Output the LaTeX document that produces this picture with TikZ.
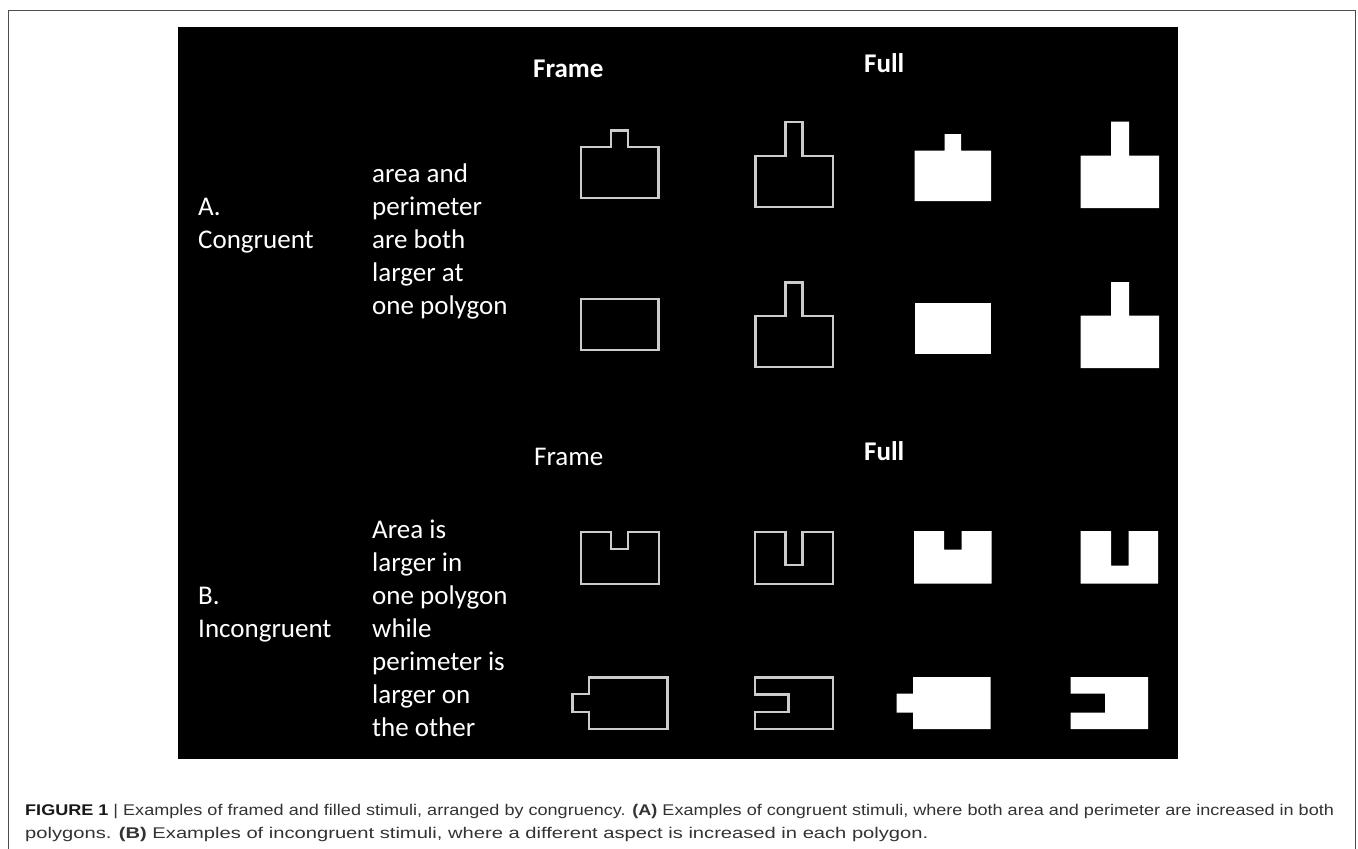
\documentclass[tikz,border=0pt]{standalone}
\usepackage{fontspec}
\setmainfont{Carlito}
\newfontfamily\capfont{Liberation Sans}
\begin{document}
\begin{tikzpicture}[x=1pt,y=-1pt,
  lbl/.style={text=white,font=\fontsize{27}{33}\selectfont,anchor=base west,inner sep=0pt},
  hdr/.style={text=white,font=\fontsize{27}{33}\selectfont\bfseries,anchor=base west,inner sep=0pt},
  hdrr/.style={text=white,font=\fontsize{27}{33}\selectfont,anchor=base west,inner sep=0pt},
  outline/.style={draw=black!20,line width=2.2pt,line join=miter},
  filledshape/.style={fill=white,draw=none},
  captext/.style={anchor=base west,inner sep=0pt,text=black!80,font=\capfont\fontsize{15.5}{20}\selectfont}]
\useasboundingbox (0,0) rectangle (1358,849);
\fill[white] (0,0) rectangle (1358,849);
% outer frame
\draw[black!70,line width=1pt] (8,849) -- (8,10) -- (1355,10) -- (1355,849);
% black panel
\fill[black] (178,27) rectangle (1178,758.5);
% headers
\node[hdr] (hA1) at (533,77) {Frame};
\node[hdr] (hA2) at (864,72) {Full};
\node[hdrr] (hB1) at (534,465) {Frame};
\node[hdr] (hB2) at (864,460) {Full};
% row labels
\node[lbl] (la1) at (198,215) {A.};
\node[lbl] (la2) at (198,248) {Congruent};
\node[lbl] (da1) at (372,182) {area and};
\node[lbl] (da2) at (372,215) {perimeter};
\node[lbl] (da3) at (372,248) {are both};
\node[lbl] (da4) at (372,281) {larger at};
\node[lbl] (da5) at (372,314) {one polygon};
\node[lbl] (lb1) at (198,604) {B.};
\node[lbl] (lb2) at (198,637) {Incongruent};
\node[lbl] (db1) at (372,538) {Area is};
\node[lbl] (db2) at (372,571) {larger in};
\node[lbl] (db3) at (372,604) {one polygon};
\node[lbl] (db4) at (372,637) {while};
\node[lbl] (db5) at (372,670) {perimeter is};
\node[lbl] (db6) at (372,703) {larger on};
\node[lbl] (db7) at (372,736) {the other};
% row 1
\draw[outline] (581,147) -- (611,147) -- (611,130.5) -- (628,130.5) -- (628,147) -- (658.5,147) -- (658.5,198) -- (581,198) -- cycle;
\draw[outline] (755.5,156) -- (785.5,156) -- (785.5,122) -- (802.5,122) -- (802.5,156) -- (833,156) -- (833,207) -- (755.5,207) -- cycle;
\fill[filledshape] (914.5,150.5) -- (944.5,150.5) -- (944.5,134) -- (961,134) -- (961,150.5) -- (991,150.5) -- (991,201) -- (914.5,201) -- cycle;
\fill[filledshape] (1080.5,155.5) -- (1111,155.5) -- (1111,121.5) -- (1129,121.5) -- (1129,155.5) -- (1159,155.5) -- (1159,208) -- (1080.5,208) -- cycle;
% row 2
\draw[outline] (581,299) rectangle (658.5,350);
\draw[outline] (755.5,316) -- (785.5,316) -- (785.5,282.5) -- (802.5,282.5) -- (802.5,316) -- (833,316) -- (833,367) -- (755.5,367) -- cycle;
\fill[filledshape] (914.5,302.5) rectangle (991,353.5);
\fill[filledshape] (1080.5,315.5) -- (1111,315.5) -- (1111,282) -- (1129,282) -- (1129,315.5) -- (1159,315.5) -- (1159,368) -- (1080.5,368) -- cycle;
% row 3
\draw[outline] (581,532) -- (611,532) -- (611,549) -- (628,549) -- (628,532) -- (659,532) -- (659,584) -- (581,584) -- cycle;
\draw[outline] (755,532) -- (785.5,532) -- (785.5,565) -- (802.5,565) -- (802.5,532) -- (833,532) -- (833,584) -- (755,584) -- cycle;
\fill[filledshape] (914,531) -- (944,531) -- (944,549.5) -- (961.5,549.5) -- (961.5,531) -- (991.5,531) -- (991.5,583.5) -- (914,583.5) -- cycle;
\fill[filledshape] (1080.5,531) -- (1111,531) -- (1111,565.5) -- (1128.5,565.5) -- (1128.5,531) -- (1158,531) -- (1158,583.5) -- (1080.5,583.5) -- cycle;
% row 4
\draw[outline] (589,677.5) -- (667.5,677.5) -- (667.5,729) -- (589,729) -- (589,712) -- (572.5,712) -- (572.5,694) -- (589,694) -- cycle;
\draw[outline] (755,677.5) -- (833,677.5) -- (833,729) -- (755,729) -- (755,712) -- (788.5,712) -- (788.5,694.5) -- (755,694.5) -- cycle;
\fill[filledshape] (913,677) -- (990.5,677) -- (990.5,729) -- (913,729) -- (913,712.5) -- (896.5,712.5) -- (896.5,693.5) -- (913,693.5) -- cycle;
\fill[filledshape] (1070.5,677) -- (1148,677) -- (1148,729) -- (1070.5,729) -- (1070.5,712.5) -- (1105,712.5) -- (1105,693.5) -- (1070.5,693.5) -- cycle;
% caption
\node[captext] (c1) at (25,815) {\scalebox{1.165}[1]{\textbf{\color{black!90}FIGURE 1} | Examples of framed and filled stimuli, arranged by congruency. \textbf{(A)} Examples of congruent stimuli, where both area and perimeter are increased in both}};
\node[captext] (c2) at (25,838) {\scalebox{1.3}[1]{polygons. \textbf{(B)} Examples of incongruent stimuli, where a different aspect is increased in each polygon.}};
\end{tikzpicture}
\end{document}
